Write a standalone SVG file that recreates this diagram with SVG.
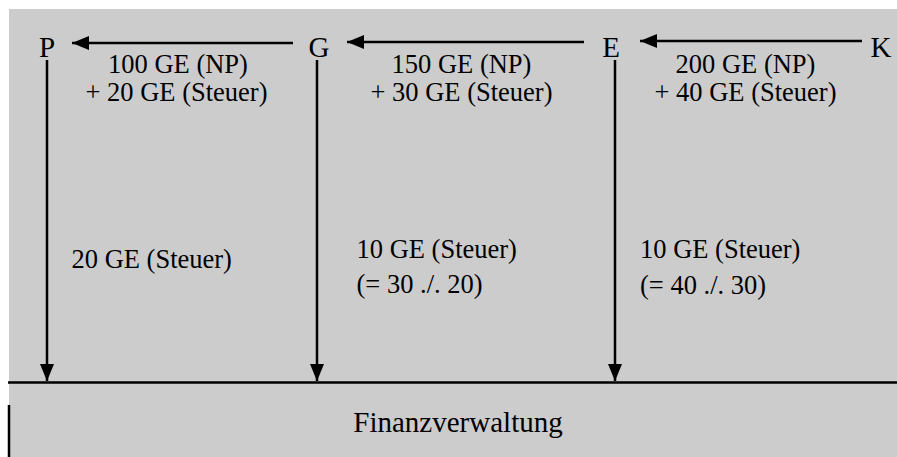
<svg xmlns="http://www.w3.org/2000/svg" width="897" height="457" viewBox="0 0 897 457">
  <style>
    .node { font-size: 29px; fill: #000; }
    .lbl { font-size: 26.5px; fill: #000; }
    .mid { text-anchor: middle; }
    .flow { stroke: #000; stroke-width: 2.5; fill: none; marker-end: url(#head); }
    .edge { stroke: #000; stroke-width: 2.5; fill: none; }
  </style>
  <defs>
    <marker id="head" markerUnits="userSpaceOnUse" markerWidth="17" markerHeight="14" refX="17" refY="7" orient="auto">
      <path d="M0,0 L17,7 L0,14 Z" fill="#000"/>
    </marker>
  </defs>

  <rect width="897" height="457" fill="#fff"/>
  <rect x="9" y="9" width="888" height="448" fill="#cccccc"/>

  <g font-family="Liberation Serif, Tinos, Times New Roman, DejaVu Serif, serif">
    <!-- tax office box edges -->
    <g id="finanzverwaltung">
      <line class="edge" x1="8" y1="382.5" x2="897" y2="382.5"/>
      <line class="edge" x1="9" y1="405" x2="9" y2="457"/>
      <text class="node mid" x="458" y="432">Finanzverwaltung</text>
    </g>

    <g id="node-P"><text class="node mid" x="47" y="57">P</text></g>
    <g id="node-G"><text class="node mid" x="319" y="57">G</text></g>
    <g id="node-E"><text class="node mid" x="611" y="57">E</text></g>
    <g id="node-K"><text class="node mid" x="881" y="57">K</text></g>

    <g id="connectors">
      <line class="flow" x1="293" y1="43" x2="72" y2="43"/>
      <line class="flow" x1="584" y1="42" x2="347" y2="42"/>
      <line class="flow" x1="862" y1="41" x2="640" y2="41"/>
      <line class="flow" x1="47" y1="60" x2="47" y2="381"/>
      <line class="flow" x1="317" y1="60" x2="317" y2="381"/>
      <line class="flow" x1="615" y1="60" x2="615" y2="381"/>
    </g>

    <g id="labels">
      <text class="lbl mid" x="178" y="72.5">100 GE (NP)</text>
      <text class="lbl mid" x="176.5" y="101">+ 20 GE (Steuer)</text>
      <text class="lbl mid" x="461.5" y="72.5">150 GE (NP)</text>
      <text class="lbl mid" x="461.5" y="101">+ 30 GE (Steuer)</text>
      <text class="lbl mid" x="745.5" y="72.5">200 GE (NP)</text>
      <text class="lbl mid" x="745.5" y="101">+ 40 GE (Steuer)</text>

      <text class="lbl" x="71.5" y="268">20 GE (Steuer)</text>
      <text class="lbl" x="356.5" y="258">10 GE (Steuer)</text>
      <text class="lbl" x="356.5" y="293">(= 30 ./. 20)</text>
      <text class="lbl" x="640" y="258">10 GE (Steuer)</text>
      <text class="lbl" x="640" y="293.5">(= 40 ./. 30)</text>
    </g>
  </g>
</svg>
